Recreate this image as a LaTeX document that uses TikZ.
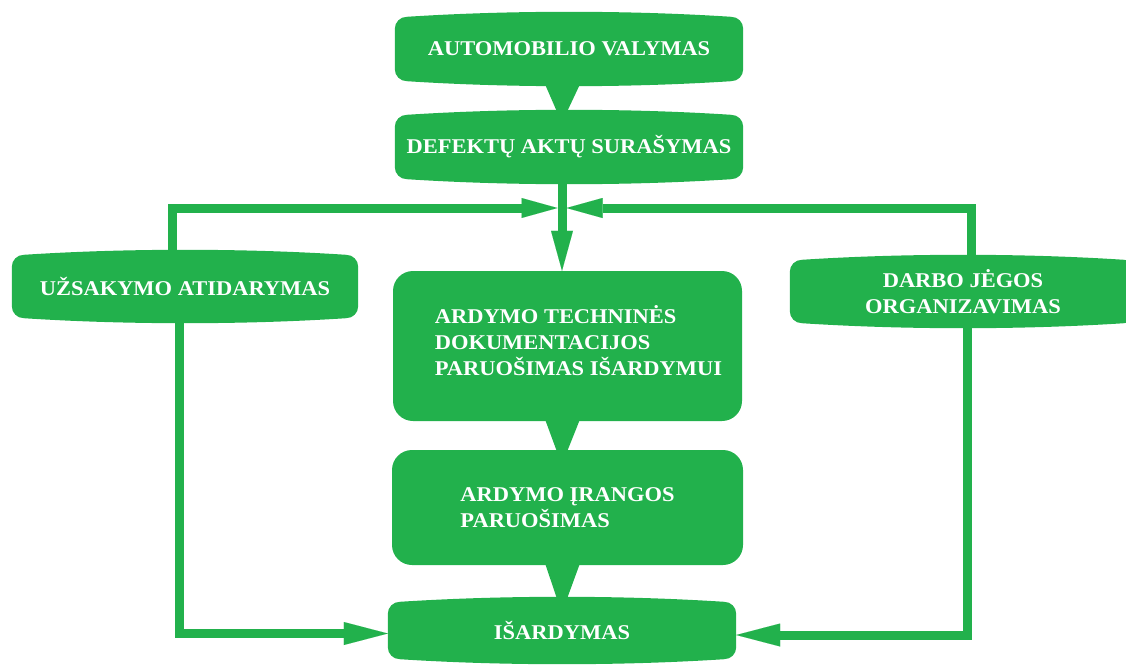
\documentclass[tikz,border=0pt]{standalone}
\usepackage{fontspec}
\setmainfont[FakeStretch=1.07]{Liberation Serif}
\usetikzlibrary{arrows.meta,calc,backgrounds}
\definecolor{leaf}{HTML}{22B14C}

\tikzset{
  boxtext/.style={text=white, font=\bfseries\fontsize{21}{26}\selectfont,
    align=center, inner sep=0pt},
  tape/.style={boxtext, minimum width=348pt},
  roundbox/.style={boxtext, fill=leaf, rounded corners=20pt, minimum width=350pt},
  flow/.style={draw=leaf, line width=9pt,
    -{Triangle[length=40pt,width=22pt,line width=0.01pt]}},
  branch/.style={draw=leaf, line width=9pt,
    -{Triangle[length=36pt,width=20pt,line width=0.01pt]}},
  sideflow/.style={draw=leaf, line width=9pt,
    -{Triangle[length=44pt,width=23pt,line width=0.01pt]}},
}

% filled box with slightly bulging top and bottom edges, fitted to a node
\newcommand\tapefill[1]{%
  \fill[leaf] let \p1=(#1.north west), \p2=(#1.south east) in
    (\x1,{\y1-17pt}) to[out=90,in=180] ({\x1+12pt},{\y1-5pt})
    .. controls ({\x1+0.33*(\x2-\x1)},{\y1+1.67pt}) and ({\x2-0.33*(\x2-\x1)},{\y1+1.67pt}) .. ({\x2-12pt},{\y1-5pt})
    to[out=0,in=90] (\x2,{\y1-17pt})
    -- (\x2,{\y2+17pt})
    to[out=-90,in=0] ({\x2-12pt},{\y2+5pt})
    .. controls ({\x2-0.33*(\x2-\x1)},{\y2-1.67pt}) and ({\x1+0.33*(\x2-\x1)},{\y2-1.67pt}) .. ({\x1+12pt},{\y2+5pt})
    to[out=180,in=-90] (\x1,{\y2+17pt}) -- cycle;}

% tapering joint between two stacked boxes
\newcommand\joint[2]{%
  \fill[leaf] ([xshift=-17pt,yshift=2pt]spine |- #1.south) -- ([xshift=18pt,yshift=2pt]spine |- #1.south)
    -- ([xshift=5pt,yshift=-2pt]spine |- #2.north) -- ([xshift=-5pt,yshift=-2pt]spine |- #2.north) -- cycle;}

\begin{document}
\begin{tikzpicture}[x=1pt,y=-1pt]
\useasboundingbox (0,0) rectangle (1126,666);

\coordinate (spine) at (562,0);
\coordinate (junction) at (562,208);

% process steps
\node[tape, minimum height=74pt] (wash) at (569,49) {AUTOMOBILIO VALYMAS};
\node[tape, minimum height=74pt] (defects) at (569,147) {DEFEKTŲ AKTŲ SURAŠYMAS};
\node[tape, minimum width=346pt, minimum height=73pt] (order) at (185,286.5) {UŽSAKYMO ATIDARYMAS};
\node[tape, minimum width=346pt, minimum height=73pt] (labour) at (963,291.5) {DARBO JĖGOS\\ORGANIZAVIMAS};
\node[roundbox, minimum width=349pt, minimum height=150pt, align=left] (docs) at (567.5,346)
  {\hspace*{22pt}ARDYMO TECHNINĖS\\\hspace*{22pt}DOKUMENTACIJOS\\\hspace*{22pt}PARUOŠIMAS IŠARDYMUI\\[-14pt]\mbox{}};
\node[roundbox, minimum width=351pt, minimum height=115pt, align=left] (tools) at (567.5,507.5)
  {ARDYMO ĮRANGOS\\PARUOŠIMAS};
\node[tape, minimum height=67pt] (strip) at (562,630.5) {IŠARDYMAS};

\begin{pgfonlayer}{background}
  \tapefill{wash}
  \tapefill{defects}
  \tapefill{order}
  \tapefill{labour}
  \tapefill{strip}
\end{pgfonlayer}

% joints between stacked steps
\joint{wash}{defects}
\joint{docs}{tools}
\joint{tools}{strip}

% connectors
\draw[flow] (spine |- defects.south) -- (spine |- docs.north);
\draw[branch] ([xshift=-13pt]order.north) |- ([xshift=-4.5pt]junction);
\draw[branch] ([xshift=8pt]labour.north) |- ([xshift=4.5pt]junction);
\draw[sideflow] ([xshift=-6pt]order.south) |- ([yshift=-3pt]strip.west);
\draw[sideflow] ([xshift=4pt]labour.south) |- ([yshift=-4.5pt]strip.east);
\end{tikzpicture}
\end{document}
